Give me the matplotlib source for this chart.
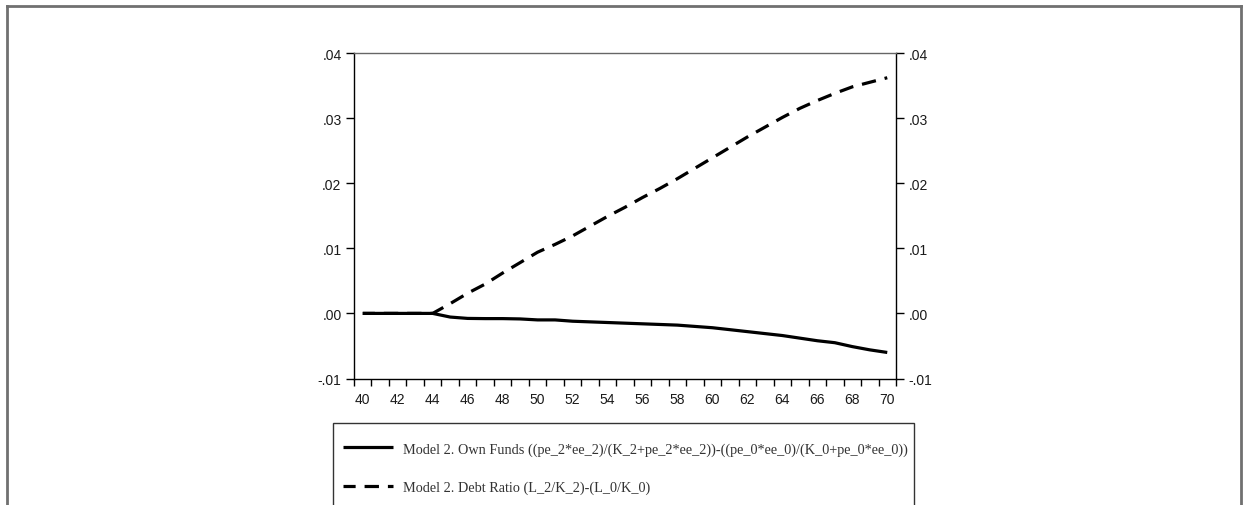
import matplotlib
matplotlib.use("Agg")
import matplotlib.pyplot as plt
from matplotlib.lines import Line2D
from matplotlib.patches import Rectangle

# data
years = list(range(40, 71))
own_funds = [0, 0, 0, 0, 0,
             -0.00056, -0.00077, -0.0008, -0.0008, -0.00085, -0.0010,
             -0.0010, -0.0012, -0.0013, -0.0014, -0.0015, -0.0016,
             -0.0017, -0.0018, -0.0020, -0.0022, -0.0025, -0.0028,
             -0.0031, -0.0034, -0.0038, -0.0042, -0.0045, -0.0051,
             -0.0056, -0.0060]
debt_ratio = [0, 0, 0, 0, 0,
              0.0015, 0.0031, 0.0045, 0.0062, 0.0078, 0.0094,
              0.0106, 0.0119, 0.0134, 0.0149, 0.0163, 0.0178,
              0.0192, 0.0207, 0.0223, 0.0239, 0.0255, 0.0271,
              0.0286, 0.0301, 0.0315, 0.0327, 0.0338, 0.0348,
              0.0355, 0.0362]
y_ticks = [-0.01, 0.0, 0.01, 0.02, 0.03, 0.04]
y_labels = ['-.01', '.00', '.01', '.02', '.03', '.04']
x_labels = list(range(40, 71, 2))
legend_labels = ['Model 2. Own Funds ((pe_2*ee_2)/(K_2+pe_2*ee_2))-((pe_0*ee_0)/(K_0+pe_0*ee_0))',
                 'Model 2. Debt Ratio (L_2/K_2)-(L_0/K_0)']

plt.rcParams['font.family'] = 'Liberation Sans'

W, H = 1243, 506
fig = plt.figure(figsize=(W / 100, H / 100), dpi=100)

def fx(px):
    return px / W

def fy(py):
    return 1 - py / H

ax = fig.add_axes([fx(354), fy(379.5), fx(896) - fx(354), fy(54) - fy(379.5)])

l1, = ax.plot(years, own_funds, color='black', lw=2.3, solid_capstyle='butt')
l2, = ax.plot(years, debt_ratio, color='black', lw=2.3, linestyle=(8, (4.5, 2.8)))

ax.set_xlim(39.5, 70.5)
ax.set_ylim(-0.01, 0.04)

# labels sit on the years, ticks on the boundaries between years
ax.set_xticks(x_labels)
ax.set_xticklabels([str(v) for v in x_labels])
ax.set_xticks([y - 0.5 for y in years] + [70.5], minor=True)
ax.tick_params(axis='x', which='major', length=0, pad=9.5, labelsize=10, colors='#1a1a1a')
ax.tick_params(axis='x', which='minor', length=5, width=1, direction='out', color='black')

ax.set_yticks(y_ticks)
ax.set_yticklabels(y_labels)
ax.tick_params(axis='y', which='major', length=6, width=1, direction='out', pad=3,
               labelsize=10, labelcolor='#1a1a1a', right=True, labelright=True)

for s in ['left', 'right', 'bottom']:
    ax.spines[s].set_linewidth(1)
    ax.spines[s].set_color('black')
ax.spines['top'].set_linewidth(1)
ax.spines['top'].set_color('#666666')

# outer frame
frame_kw = dict(color='#707070', lw=2, transform=fig.transFigure)
fig.add_artist(Line2D([fx(6.5), fx(6.5)], [fy(7), -0.05], **frame_kw))
fig.add_artist(Line2D([fx(6.5), fx(1240.5)], [fy(7), fy(7)], **frame_kw))
fig.add_artist(Line2D([fx(1240.5), fx(1240.5)], [fy(7), -0.05], **frame_kw))

# legend box runs past the bottom of the image
fig.add_artist(Rectangle((fx(333.5), -0.1), fx(914) - fx(333.5), fy(424) + 0.1,
                         transform=fig.transFigure, fill=False, ec='#333333', lw=1))

leg = fig.legend([l1, l2], legend_labels, loc='upper left',
                 bbox_to_anchor=(fx(336), fy(436)), frameon=False, borderpad=0,
                 handlelength=3.5, handletextpad=0.65, labelspacing=1.75,
                 prop={'family': 'Liberation Serif', 'size': 10.3})
for t in leg.get_texts():
    t.set_color('#333333')

fig.savefig('out.png', dpi=100)
